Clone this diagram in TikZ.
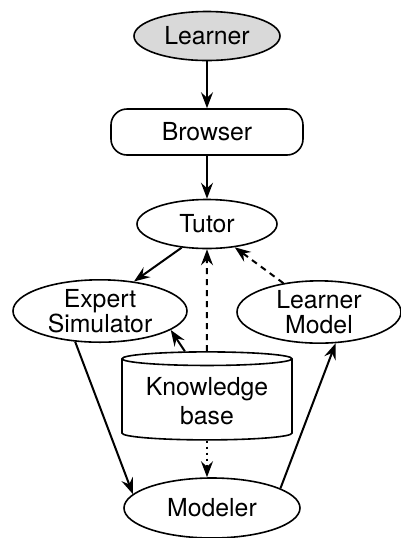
\documentclass[tikz,border=0pt]{standalone}
\usepackage{fontspec}
\setmainfont{TeX Gyre Heros}
\usetikzlibrary{arrows.meta,shapes.geometric}

\begin{document}
\begin{tikzpicture}[x=0.5pt,y=-0.5pt,
    every node/.style={font=\fontsize{12.4}{12.8}\selectfont, align=center, line width=0.8pt},
    oval/.style={draw, ellipse, inner sep=0pt},
    flow/.style={line width=1pt, -{Stealth[length=8pt,width=6pt,inset=2.8pt]}},
    dflow/.style={flow, dash pattern=on 3pt off 2.5pt}]
    \useasboundingbox (0,0) rectangle (401,538);
    \node[oval, fill=black!15, minimum width=73pt, minimum height=24.5pt] at(207,36)(learner){Learner};
    \node[draw, rounded corners=8pt, minimum width=96pt, minimum height=23pt] at(207,132)(browser){Browser};
    \node[oval, minimum width=70pt, minimum height=24.5pt] at(207,224)(tutor){Tutor};
    \node[oval, minimum width=87pt, minimum height=31pt] at(100,311)(expert){Expert\\Simulator};
    \node[oval, minimum width=82pt, minimum height=30.5pt] at(319,312)(lmodel){Learner\\Model};
    \node[draw, cylinder, shape border rotate=90, aspect=0.1, minimum width=85pt, minimum height=44pt,
        font=\fontsize{12.4}{14.8}\selectfont] at(207,401)(kb){Knowledge\\base};
    \node[oval, minimum width=88pt, minimum height=30pt] at(212,508)(modeler){Modeler};
    \draw[flow] (learner) -- (browser);
    \draw[flow] (browser) -- (tutor);
    \draw[flow] (tutor.223) -- (expert.41);
    \draw[dflow] (kb.north) -- (tutor.south);
    \draw[dflow] (lmodel.141) -- (tutor.320);
    \draw[flow] (kb.114) -- (expert.345);
    \draw[flow] (expert.231) -- (modeler.170);
    \draw[flow] (modeler.16) -- (lmodel.298);
    \draw[flow, dash pattern=on 1pt off 2pt] (kb.south) -- (kb.south |- modeler.north);
\end{tikzpicture}
\end{document}
